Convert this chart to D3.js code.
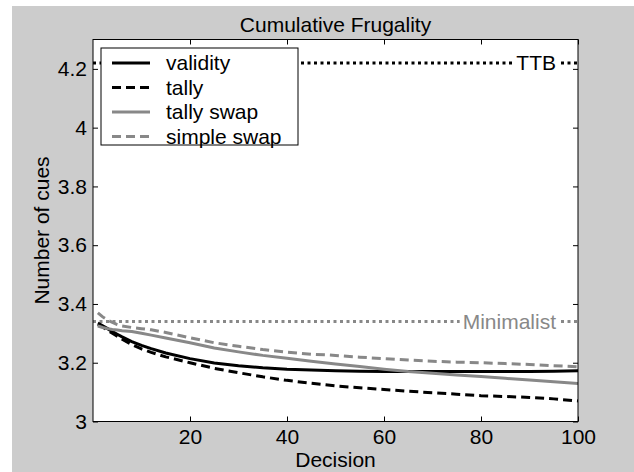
<!DOCTYPE html>
<html>
<head>
<meta charset="utf-8">
<script src="https://cdn.jsdelivr.net/npm/d3@7"></script>
<style>
  body { margin: 0; background: #fff; }
  svg { display: block; font-family: "Liberation Sans", Arial, sans-serif; }
</style>
</head>
<body>
<svg id="chart" width="634" height="472"></svg>
<script>
// data
let decision = [1, 2, 3, 4, 5, 6, 8, 10, 12, 15, 20, 25, 30, 35, 40, 45, 50, 55, 60, 65, 70, 75, 80, 85, 90, 95, 100];
let validity = [3.335, 3.326, 3.316, 3.306, 3.297, 3.288, 3.272, 3.259, 3.248, 3.233, 3.214, 3.199, 3.190, 3.183, 3.178, 3.175, 3.173, 3.171, 3.170, 3.170, 3.170, 3.170, 3.170, 3.170, 3.170, 3.171, 3.173];
let tally = [3.330, 3.322, 3.311, 3.300, 3.290, 3.280, 3.262, 3.247, 3.235, 3.220, 3.200, 3.181, 3.166, 3.152, 3.140, 3.130, 3.121, 3.115, 3.109, 3.103, 3.098, 3.093, 3.088, 3.085, 3.082, 3.077, 3.070];
let tallySwap = [3.325, 3.320, 3.316, 3.313, 3.311, 3.309, 3.306, 3.300, 3.294, 3.284, 3.268, 3.250, 3.237, 3.225, 3.215, 3.205, 3.196, 3.187, 3.178, 3.170, 3.164, 3.158, 3.153, 3.147, 3.141, 3.135, 3.129];
let simpleSwap = [3.370, 3.356, 3.345, 3.337, 3.330, 3.325, 3.320, 3.316, 3.312, 3.303, 3.285, 3.268, 3.256, 3.245, 3.236, 3.229, 3.225, 3.219, 3.214, 3.209, 3.205, 3.202, 3.200, 3.197, 3.194, 3.190, 3.186];
let seriesNames = ['validity', 'tally', 'tally swap', 'simple swap'];
let refNames = ['TTB', 'Minimalist'];
let refValues = [4.22, 3.34];
let xTicks = [20, 40, 60, 80, 100];
let yTicks = [3, 3.2, 3.4, 3.6, 3.8, 4, 4.2];

let seriesValues = [validity, tally, tallySwap, simpleSwap];

let styles = {
  'validity': { color: '#000', dash: null },
  'tally': { color: '#000', dash: '9,5' },
  'tally swap': { color: '#888', dash: null },
  'simple swap': { color: '#888', dash: '9,5' },
  'TTB': { color: '#000' },
  'Minimalist': { color: '#888' }
};

let axLeft = 93, axRight = 578, axTop = 39.5, axBottom = 421.5;
let fontSize = 21;

let svg = d3.select('#chart');

// figure background
svg.append('rect')
  .attr('x', 12).attr('y', 6)
  .attr('width', 622).attr('height', 466)
  .attr('fill', '#cccccc');

svg.append('rect')
  .attr('x', axLeft).attr('y', axTop)
  .attr('width', axRight - axLeft).attr('height', axBottom - axTop)
  .attr('fill', '#fff');

let x = d3.scaleLinear().domain([0, 100]).range([axLeft, axRight]);
let y = d3.scaleLinear().domain([3, 4.3]).range([axBottom, axTop]);

svg.append('clipPath').attr('id', 'clip')
  .append('rect')
  .attr('x', axLeft).attr('y', axTop)
  .attr('width', axRight - axLeft).attr('height', axBottom - axTop);

let plot = svg.append('g').attr('clip-path', 'url(#clip)');

// reference levels (dotted)
refNames.forEach(function (name, i) {
  plot.append('line')
    .attr('x1', axLeft).attr('x2', axRight)
    .attr('y1', y(refValues[i])).attr('y2', y(refValues[i]))
    .attr('stroke', styles[name].color)
    .attr('stroke-width', 3)
    .attr('stroke-dasharray', '3,3.5');
});

let line = d3.line()
  .x(function (d) { return x(d[0]); })
  .y(function (d) { return y(d[1]); });

seriesNames.forEach(function (name, i) {
  let pts = decision.map(function (d, j) { return [d, seriesValues[i][j]]; });
  plot.append('path')
    .attr('d', line(pts))
    .attr('fill', 'none')
    .attr('stroke', styles[name].color)
    .attr('stroke-width', 3)
    .attr('stroke-dasharray', styles[name].dash);
});

// labels on the reference lines
refNames.forEach(function (name, i) {
  let t = svg.append('text')
    .attr('x', 556)
    .attr('y', y(refValues[i]))
    .attr('dy', '0.35em')
    .attr('text-anchor', 'end')
    .attr('font-size', fontSize)
    .attr('fill', styles[name].color)
    .text(name);
  let bb = t.node().getBBox();
  svg.insert('rect', function () { return t.node(); })
    .attr('x', bb.x - 3).attr('y', bb.y)
    .attr('width', bb.width + 6).attr('height', bb.height)
    .attr('fill', '#fff');
});

// axes with inward ticks on all four sides
let fmt = function (d) { return String(+d.toFixed(1)); };

svg.append('g')
  .attr('transform', 'translate(0,' + axBottom + ')')
  .call(d3.axisBottom(x).tickValues(xTicks).tickSize(-5).tickSizeOuter(0).tickPadding(8).tickFormat(fmt));
svg.append('g')
  .attr('transform', 'translate(0,' + axTop + ')')
  .call(d3.axisTop(x).tickValues(xTicks).tickSize(-5).tickSizeOuter(0).tickFormat(''));
svg.append('g')
  .attr('transform', 'translate(' + axLeft + ',0)')
  .call(d3.axisLeft(y).tickValues(yTicks).tickSize(-5).tickSizeOuter(0).tickPadding(6).tickFormat(fmt));
svg.append('g')
  .attr('transform', 'translate(' + axRight + ',0)')
  .call(d3.axisRight(y).tickValues(yTicks).tickSize(-5).tickSizeOuter(0).tickFormat(''));

svg.selectAll('.tick text')
  .attr('font-size', fontSize)
  .attr('font-family', '"Liberation Sans", Arial, sans-serif')
  .attr('fill', '#000');
svg.selectAll('.domain').remove();
svg.selectAll('.tick line').attr('stroke', '#000');

svg.append('rect')
  .attr('x', axLeft).attr('y', axTop)
  .attr('width', axRight - axLeft).attr('height', axBottom - axTop)
  .attr('fill', 'none')
  .attr('stroke', '#000')
  .attr('stroke-width', 1);

// title and axis labels
svg.append('text')
  .attr('x', (axLeft + axRight) / 2).attr('y', 32)
  .attr('text-anchor', 'middle')
  .attr('font-size', fontSize)
  .text('Cumulative Frugality');

svg.append('text')
  .attr('x', (axLeft + axRight) / 2).attr('y', 467)
  .attr('text-anchor', 'middle')
  .attr('font-size', fontSize)
  .text('Decision');

svg.append('text')
  .attr('transform', 'translate(42,' + (axTop + axBottom) / 2 + ') rotate(-90)')
  .attr('dy', '0.35em')
  .attr('text-anchor', 'middle')
  .attr('font-size', fontSize)
  .text('Number of cues');

// legend
let legend = svg.append('g');
legend.append('rect')
  .attr('x', 101).attr('y', 48)
  .attr('width', 197).attr('height', 97)
  .attr('fill', '#fff')
  .attr('stroke', '#000')
  .attr('stroke-width', 1);

seriesNames.forEach(function (name, i) {
  let ly = 63 + i * 24.5;
  legend.append('line')
    .attr('x1', 112).attr('x2', 150)
    .attr('y1', ly).attr('y2', ly)
    .attr('stroke', styles[name].color)
    .attr('stroke-width', 3)
    .attr('stroke-dasharray', styles[name].dash);
  legend.append('text')
    .attr('x', 166).attr('y', ly)
    .attr('dy', '0.35em')
    .attr('font-size', fontSize)
    .text(name);
});
</script>
</body>
</html>
